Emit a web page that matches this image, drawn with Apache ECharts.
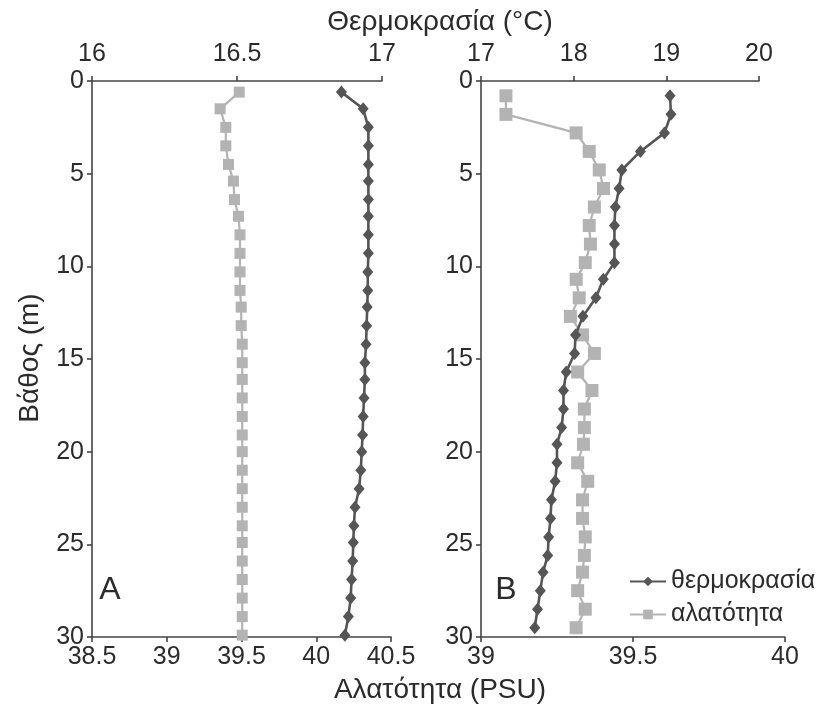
<!DOCTYPE html>
<html><head><meta charset="utf-8">
<script src="https://cdn.jsdelivr.net/npm/echarts@6/dist/echarts.min.js"></script>
<style>html,body{margin:0;padding:0;background:#fff}#c{width:818px;height:713px}</style>
</head><body><div id="c"></div><script>
// Panel A
const depthA = [0.6,1.5,2.5,3.5,4.5,5.4,6.4,7.3,8.3,9.3,10.3,11.3,12.2,13.2,14.2,15.2,16.1,17.1,18.1,19.1,20.0,21.0,22.0,23.0,24.0,24.9,25.9,26.9,27.9,28.9,29.9];
const tempA = [16.86,16.935,16.953,16.953,16.953,16.953,16.953,16.953,16.953,16.953,16.951,16.951,16.949,16.947,16.945,16.941,16.941,16.938,16.935,16.933,16.930,16.927,16.921,16.907,16.903,16.901,16.899,16.895,16.892,16.884,16.872];
const salA = [39.485,39.357,39.395,39.395,39.413,39.446,39.453,39.48,39.49,39.49,39.49,39.49,39.498,39.498,39.505,39.505,39.505,39.505,39.505,39.505,39.505,39.505,39.505,39.505,39.505,39.505,39.505,39.505,39.505,39.505,39.505];
// Panel B
const depthB = [0.8,1.8,2.8,3.8,4.8,5.8,6.8,7.8,8.8,9.8,10.7,11.7,12.7,13.7,14.7,15.7,16.7,17.7,18.7,19.6,20.6,21.6,22.6,23.6,24.6,25.6,26.5,27.5,28.5,29.5];
const tempB = [19.04,19.05,18.98,18.72,18.52,18.49,18.45,18.44,18.44,18.44,18.32,18.24,18.10,18.02,18.01,17.92,17.89,17.89,17.87,17.82,17.82,17.80,17.76,17.75,17.73,17.72,17.67,17.64,17.61,17.58];
const salB = [39.082,39.082,39.313,39.356,39.389,39.403,39.373,39.356,39.36,39.343,39.313,39.323,39.294,39.334,39.373,39.318,39.365,39.34,39.34,39.337,39.318,39.351,39.334,39.334,39.343,39.34,39.334,39.318,39.343,39.313];

const names = ['θερμοκρασία','αλατότητα'];
const FONT = "'Liberation Sans Narrow','Liberation Sans',Arial,sans-serif";
const TXT = '#2b2b2b';
const AX = '#444';
const TEMP_C = '#555555';
const SAL_C = '#b3b3b3';

function pairs(xs, ys){ return xs.map((v,i)=>[v, ys[i]]); }

function xAx(grid, pos, min, max, interval){
  return {type:'value', gridIndex:grid, position:pos, min:min, max:max, interval:interval,
    axisLine:{show:true, onZero:false, lineStyle:{color:AX, width:1.6}},
    axisTick:{show:true, inside:false, length:5, lineStyle:{color:AX, width:1.6}},
    axisLabel:{fontFamily:FONT, fontSize:25, color:TXT, margin: pos==='top'?14:8},
    splitLine:{show:false}};
}
function yAx(grid, show){
  return {type:'value', gridIndex:grid, inverse:true, min:0, max:30, interval:5, show:show,
    axisLine:{show:true, onZero:false, lineStyle:{color:AX, width:1.6}},
    axisTick:{show:true, inside:false, length:5, lineStyle:{color:AX, width:1.6}},
    axisLabel:{fontFamily:FONT, fontSize:25, color:TXT, margin:8},
    splitLine:{show:false}};
}
function tempSeries(xi, yi, xs, ys){
  return {name:names[0], type:'line', xAxisIndex:xi, yAxisIndex:yi, data:pairs(xs,ys),
    symbol:'diamond', symbolSize:[11,13], showAllSymbol:true,
    lineStyle:{color:TEMP_C, width:2.6}, itemStyle:{color:TEMP_C}, z:3};
}
function salSeries(xi, yi, xs, ys, size){
  return {name:names[1], type:'line', xAxisIndex:xi, yAxisIndex:yi, data:pairs(xs,ys),
    symbol:'rect', symbolSize:size, showAllSymbol:true,
    lineStyle:{color:SAL_C, width:2.2}, itemStyle:{color:SAL_C}, z:2};
}

const chart = echarts.init(document.getElementById('c'), null, {renderer:'canvas'});
chart.setOption({
  animation:false,
  backgroundColor:'#fff',
  grid:[
    {left:92, top:81, width:290, height:556},
    {left:92, top:81, width:299, height:556},
    {left:481, top:81, width:278, height:556},
    {left:481, top:81, width:304, height:556}
  ],
  xAxis:[
    xAx(0,'top',16,17,0.5),
    xAx(1,'bottom',38.5,40.5,0.5),
    xAx(2,'top',17,20,1),
    xAx(3,'bottom',39,40,0.5)
  ],
  yAxis:[ yAx(0,true), yAx(1,false), yAx(2,true), yAx(3,false) ],
  legend:{
    data:names, orient:'vertical', left:624, top:564, itemGap:8,
    itemWidth:36, itemHeight:12,
    textStyle:{fontFamily:FONT, fontSize:25, color:TXT}
  },
  series:[
    salSeries(1,1,salA,depthA,11),
    tempSeries(0,0,tempA,depthA),
    salSeries(3,3,salB,depthB,13),
    tempSeries(2,2,tempB,depthB)
  ],
  graphic:[
    {type:'text', x:440, y:22, style:{text:'Θερμοκρασία (°C)', fontFamily:FONT, fontSize:28, fill:TXT, align:'center', verticalAlign:'middle'}},
    {type:'text', x:440, y:690, style:{text:'Αλατότητα (PSU)', fontFamily:FONT, fontSize:28, fill:TXT, align:'center', verticalAlign:'middle'}},
    {type:'text', x:30, y:358, rotation:Math.PI/2, style:{text:'Βάθος (m)', fontFamily:FONT, fontSize:28, fill:TXT, align:'center', verticalAlign:'middle'}},
    {type:'text', x:110, y:590, style:{text:'A', fontFamily:FONT, fontSize:32, fill:TXT, align:'center', verticalAlign:'middle'}},
    {type:'text', x:506, y:590, style:{text:'B', fontFamily:FONT, fontSize:32, fill:TXT, align:'center', verticalAlign:'middle'}}
  ]
});
</script></body></html>
